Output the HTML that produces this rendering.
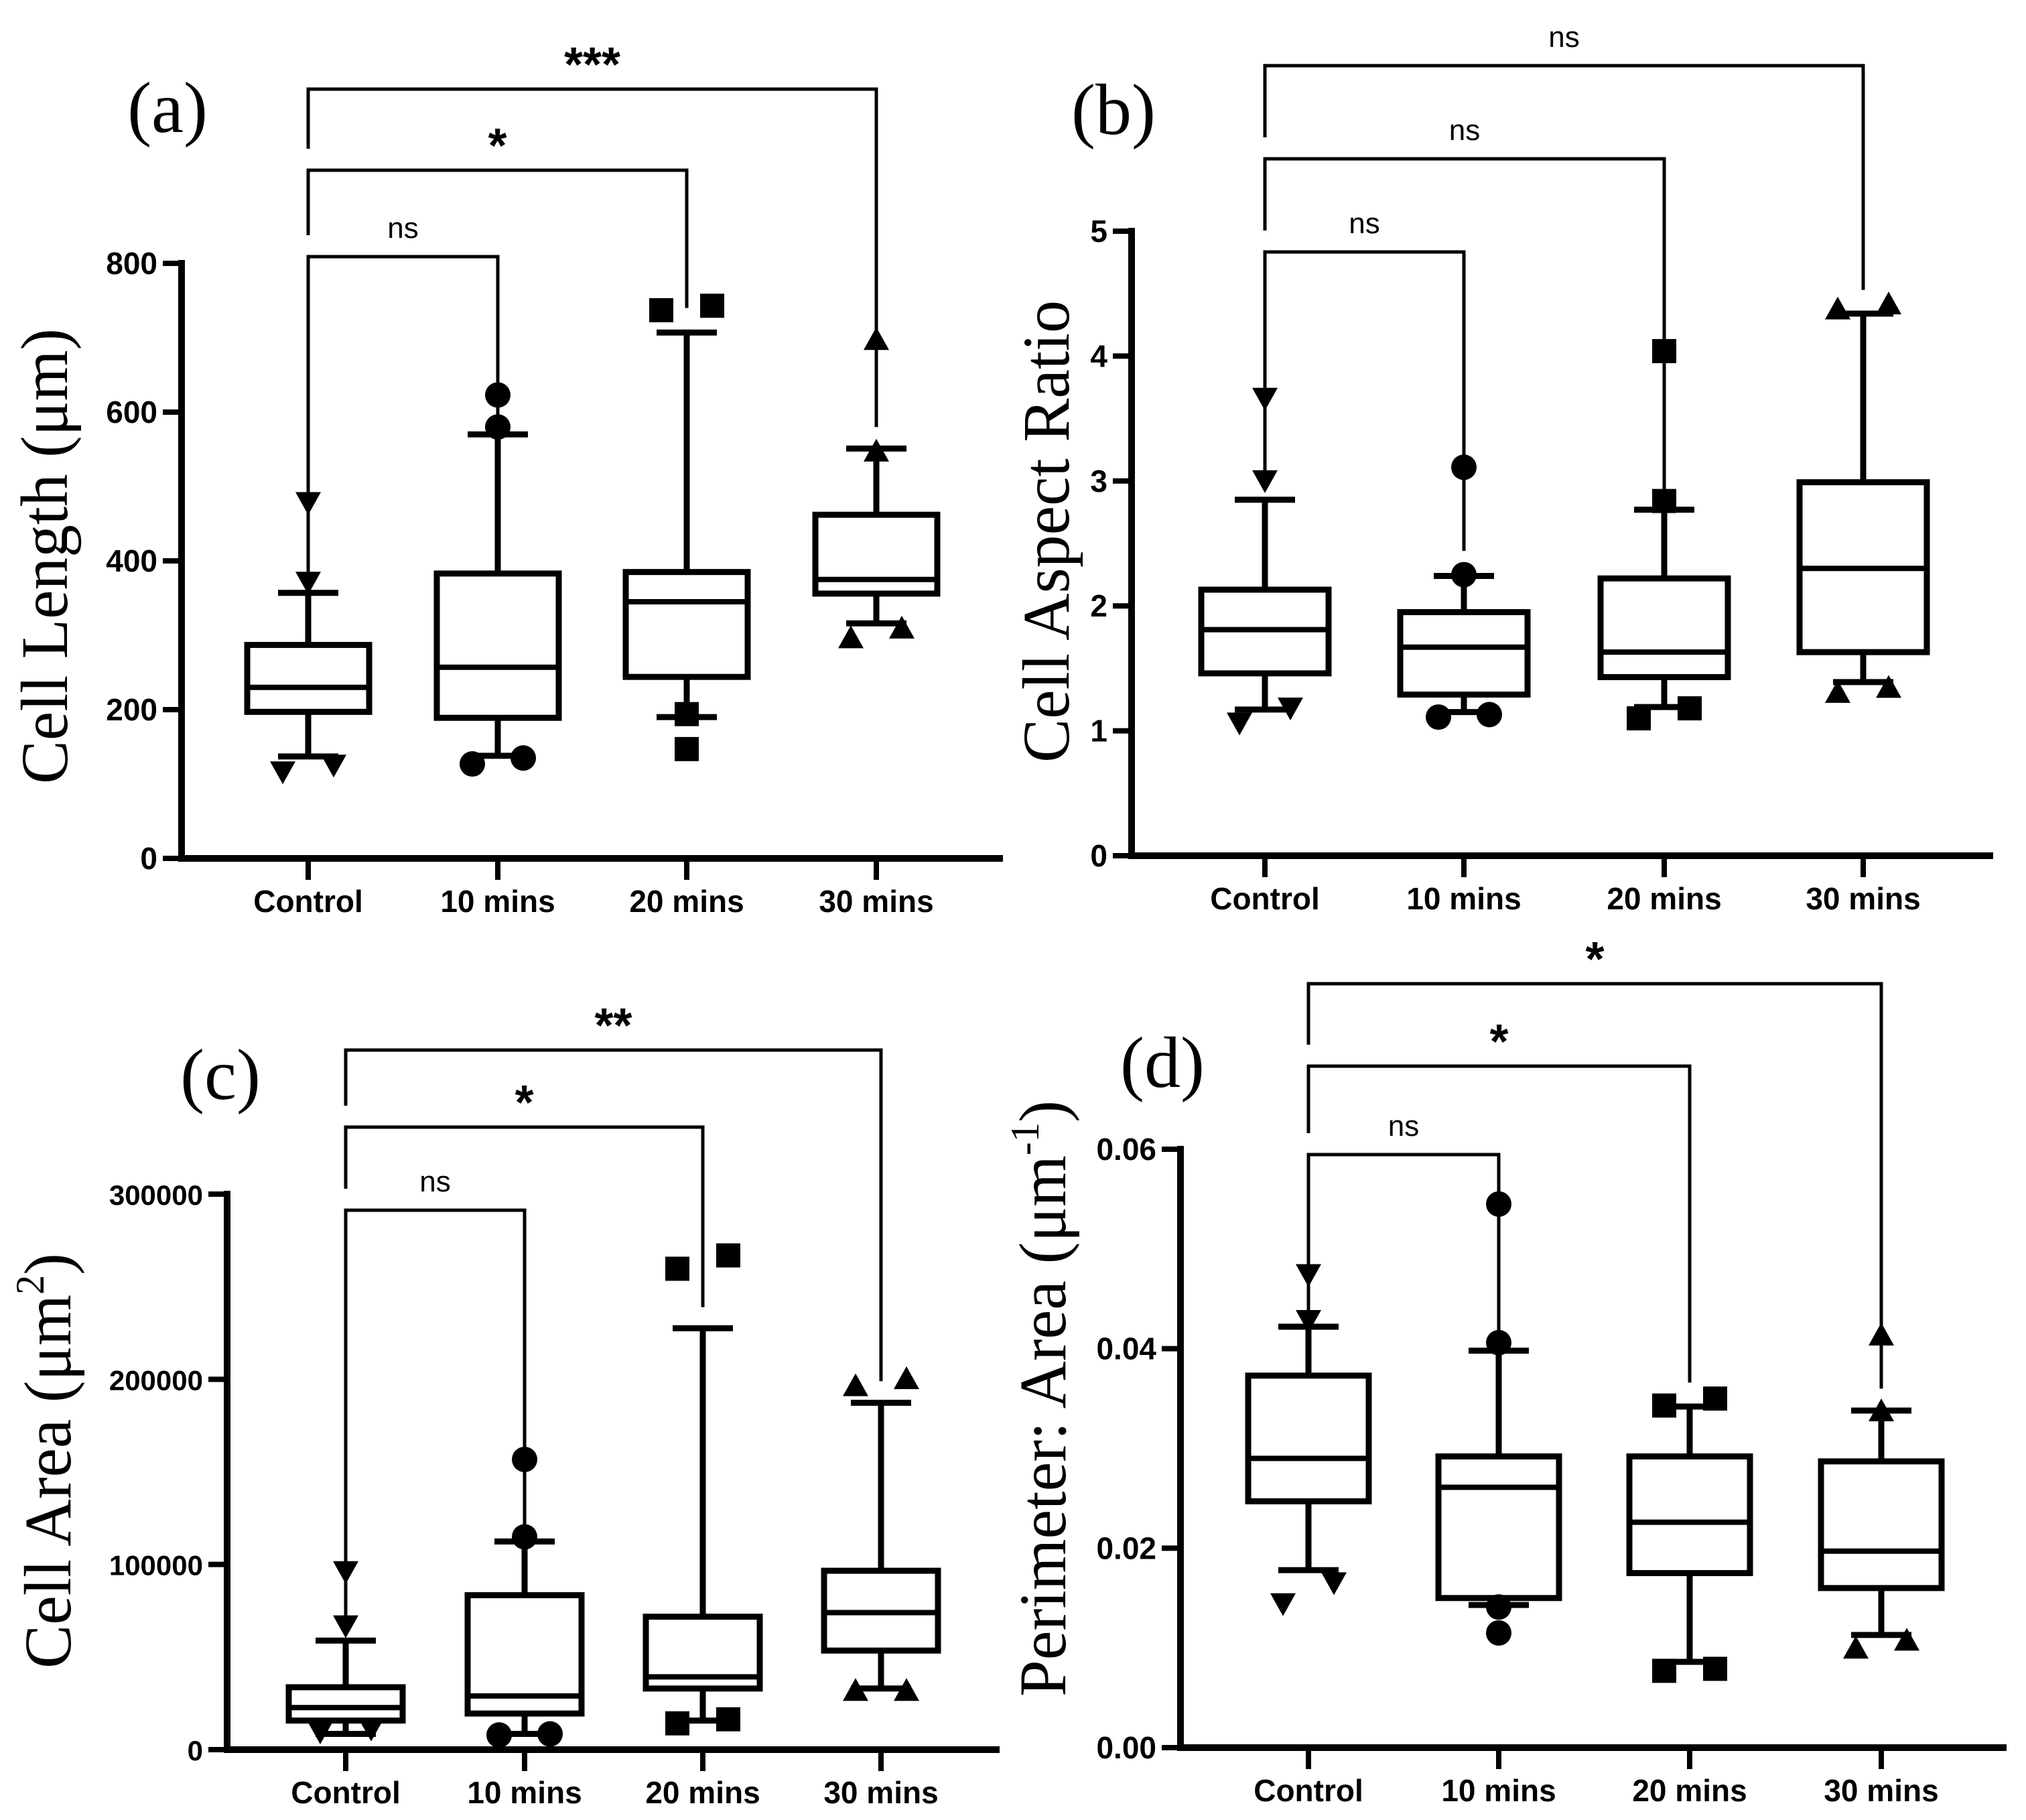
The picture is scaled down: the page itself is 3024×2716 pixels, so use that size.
<!DOCTYPE html>
<html><head><meta charset="utf-8"><style>
html,body{margin:0;padding:0;background:#fff;}
svg{display:block;}
</style></head><body>
<svg id="fig" xmlns="http://www.w3.org/2000/svg" width="3024" height="2716" viewBox="0 0 3024 2716"></svg>
<script>
const categories = ["Control","10 mins","20 mins","30 mins"];

// Panel a: Cell Length
const aQ1 = [197, 189, 244, 356];
const aMed = [230, 257, 345, 375];
const aQ3 = [287, 383, 385, 462];
const aWLo = [137, 138, 190, 316];
const aWHi = [357, 570, 707, 551];
const aOut = [[[478,0],[371,0],[116,-1],[125,1]],[[623,0],[580,0],[127,-1],[135,1]],[[737,-1],[743,1],[194,0],[147,0]],[[698,0],[548,0],[297,-1],[310,1]]];
const aTicks = [0,200,400,600,800];
const aSig = ["ns","*","***"];
const aLegEnd = [580, 740, 580];

// Panel b: Aspect ratio
const bQ1 = [1.46, 1.29, 1.43, 1.63];
const bMed = [1.81, 1.67, 1.63, 2.30];
const bQ3 = [2.13, 1.95, 2.22, 2.99];
const bWLo = [1.17, 1.15, 1.19, 1.39];
const bWHi = [2.85, 2.24, 2.77, 4.34];
const bOut = [[[3.66,0],[3.0,0],[1.06,-1],[1.18,1]],[[3.11,0],[2.25,0],[1.11,-1],[1.13,1]],[[4.04,0],[2.84,0],[1.10,-1],[1.18,1]],[[4.38,-1],[4.42,1],[1.31,-1],[1.35,1]]];
const bTicks = [0,1,2,3,4,5];
const bSig = ["ns","ns","ns"];
const bLegEnd = [2.44, 2.9, 4.53];

// Panel c: Cell area
const cQ1 = [15700, 19500, 33000, 53500];
const cMed = [22700, 29000, 39300, 74000];
const cQ3 = [33700, 83400, 71800, 96600];
const cWLo = [8500, 8500, 15700, 33000];
const cWHi = [58900, 112400, 227600, 187300];
const cOut = [[[96000,0],[66700,0],[9400,-1],[11000,1]],[[156700,0],[114900,0],[7900,-1],[8500,1]],[[259700,-1],[266900,1],[14200,-1],[16400,1]],[[196700,-1],[200500,1],[32100,-1],[32100,1]]];
const cTicks = [0,100000,200000,300000];
const cSig = ["ns","*","**"];
const cLegEnd = [115000, 239000, 199000];

// Panel d: Perimeter:Area
const dQ1 = [0.0247, 0.0150, 0.0175, 0.0160];
const dMed = [0.0290, 0.0261, 0.0226, 0.0197];
const dQ3 = [0.0373, 0.0292, 0.0292, 0.0287];
const dWLo = [0.0178, 0.0143, 0.0086, 0.0113];
const dWHi = [0.0422, 0.0398, 0.0342, 0.0338];
const dOut = [[[0.0474,0],[0.0428,0],[0.0144,-1],[0.0165,1]],[[0.0545,0],[0.0406,0],[0.0141,0],[0.0115,0]],[[0.0343,-1],[0.0350,1],[0.0077,-1],[0.0079,1]],[[0.0414,0],[0.0338,0],[0.0100,-1],[0.0108,1]]];
const dTicks = [0,0.02,0.04,0.06];
const dTickLabels = ["0.00","0.02","0.04","0.06"];
const dSig = ["ns","*","*"];
const dLegEnd = [0.041, 0.0366, 0.036];

const NS = "http://www.w3.org/2000/svg";
const svg = document.getElementById('fig');
function mk(tag, attrs, parent){
  const e = document.createElementNS(NS, tag);
  for (const k in attrs) e.setAttribute(k, attrs[k]);
  (parent||svg).appendChild(e);
  return e;
}

function panel(p){
  const g = mk('g', {});
  
  
  const yScale = v => p.y0 + (v - p.vmin)/(p.vmax - p.vmin)*(p.y1 - p.y0);
  const xs = p.cx;
  const ya = mk('line', {x1:p.ax, y1:p.y0+5, x2:p.ax, y2:p.y1-5, stroke:'#000','stroke-width':10}, g);
  
  
  const xa = mk('line', {x1:p.ax-5, y1:p.y0, x2:p.xend, y2:p.y0, stroke:'#000','stroke-width':10}, g);
  
  
  p.ticks.forEach((t,i)=>{
    const y = yScale(t);
    mk('line', {x1:p.ax-28, y1:y, x2:p.ax, y2:y, stroke:'#000','stroke-width':8}, g);
    const tx = mk('text', {x:p.ax-36, y:y+16, 'text-anchor':'end','font-family':'Liberation Sans, sans-serif','font-weight':'bold','font-size':p.tickFont||46}, g);
    tx.textContent = p.tickLabels ? p.tickLabels[i] : String(t);
    
    
  });
  categories.forEach((c,i)=>{
    mk('line', {x1:xs[i], y1:p.y0, x2:xs[i], y2:p.y0+32, stroke:'#000','stroke-width':8}, g);
    const tx = mk('text', {x:xs[i], y:p.y0+80, 'text-anchor':'middle','font-family':'Liberation Sans, sans-serif','font-weight':'bold','font-size':46}, g);
    tx.textContent = c;
    
    
  });
  const tt = mk('text', {x:0, y:0, transform:`translate(${p.tx},${p.ty}) rotate(-90)`, 'text-anchor':'middle','font-family':'Liberation Serif, serif','font-size':100, textLength:p.tlen, lengthAdjust:'spacingAndGlyphs'}, g);
  tt.innerHTML = p.title;
  
  
  const pl = mk('text', {x:p.lx, y:p.ly, 'text-anchor':'middle','font-family':'Liberation Serif, serif','font-size':108}, g);
  pl.textContent = p.label;
  
  
  p.sig.forEach((s,k)=>{
    const by = p.by[k];
    const xr = xs[k+1];
    const leftEnd = k===0 ? yScale(p.out[0][1][0]) : p.by[k-1]-32;
    const rightEnd = yScale(p.legEnd[k]);
    const br = mk('path', {d:`M${xs[0]},${leftEnd} L${xs[0]},${by} L${xr},${by} L${xr},${rightEnd}`, fill:'none', stroke:'#000','stroke-width':5}, g);
    
    
    const isStar = s.indexOf('*')>=0;
    const st = mk('text', {x:(xs[0]+xr)/2, y: isStar ? by-12 : by-28, 'text-anchor':'middle','font-family':'Liberation Sans, sans-serif','font-weight': isStar?'bold':'normal','font-size': isStar?72:44}, g);
    st.textContent = s;
    
    
  });
  for (let i=0;i<4;i++){
    const x = xs[i], hw = p.hw;
    const wl = mk('line', {x1:x, y1:yScale(p.wlo[i]), x2:x, y2:yScale(p.q1[i]), stroke:'#000','stroke-width':9}, g);
    
    
    const wh = mk('line', {x1:x, y1:yScale(p.whi[i]), x2:x, y2:yScale(p.q3[i]), stroke:'#000','stroke-width':9}, g);
    
    
    mk('line', {x1:x-45, y1:yScale(p.wlo[i]), x2:x+45, y2:yScale(p.wlo[i]), stroke:'#000','stroke-width':9}, g);
    mk('line', {x1:x-45, y1:yScale(p.whi[i]), x2:x+45, y2:yScale(p.whi[i]), stroke:'#000','stroke-width':9}, g);
    const yt = yScale(p.q3[i]), yb = yScale(p.q1[i]);
    const bx = mk('rect', {x:x-hw, y:yt, width:2*hw, height:yb-yt, fill:'#fff', stroke:'#000','stroke-width':9}, g);
    
    
    const md = mk('line', {x1:x-hw, y1:yScale(p.med[i]), x2:x+hw, y2:yScale(p.med[i]), stroke:'#000','stroke-width':8}, g);
    
    
    p.out[i].forEach(o=>{
      const ox = x + o[1]*38, oy = yScale(o[0]);
      let m;
      if (i===0) m = mk('path', {d:`M${ox-19},${oy-16} L${ox+19},${oy-16} L${ox},${oy+18} Z`, fill:'#000'}, g);
      else if (i===1) m = mk('circle', {cx:ox, cy:oy, r:19, fill:'#000'}, g);
      else if (i===2) m = mk('rect', {x:ox-18, y:oy-18, width:36, height:36, fill:'#000'}, g);
      else m = mk('path', {d:`M${ox-19},${oy+16} L${ox+19},${oy+16} L${ox},${oy-18} Z`, fill:'#000'}, g);
      
      
    });
  }
}

panel({name:'panel-a-cell-length', ax:271, xend:1497, y0:1281, y1:393, vmin:0, vmax:800, cx:[460,743,1025,1308], hw:91,
  ticks:aTicks, q1:aQ1, med:aMed, q3:aQ3, wlo:aWLo, whi:aWHi, out:aOut, sig:aSig, legEnd:aLegEnd, by:[383,254,133],
  title:'Cell Length (μm)', tx:100, ty:830, tlen:680, label:'(a)', lx:250, ly:197});
panel({name:'panel-b-aspect-ratio', ax:1689, xend:2975, y0:1277, y1:345, vmin:0, vmax:5, cx:[1888,2185,2484,2781], hw:95,
  ticks:bTicks, q1:bQ1, med:bMed, q3:bQ3, wlo:bWLo, whi:bWHi, out:bOut, sig:bSig, legEnd:bLegEnd, by:[376,237,98],
  title:'Cell Aspect Ratio', tx:1595, ty:793, tlen:690, label:'(b)', lx:1662, ly:200});
panel({name:'panel-c-cell-area', ax:339, xend:1492, y0:2611, y1:1782, vmin:0, vmax:300000, cx:[516,783,1049,1315], hw:85,
  ticks:cTicks, tickFont:42, q1:cQ1, med:cMed, q3:cQ3, wlo:cWLo, whi:cWHi, out:cOut, sig:cSig, legEnd:cLegEnd, by:[1806,1682,1567],
  title:'Cell Area (μm<tspan dy="-40" font-size="60">2</tspan><tspan dy="40">)</tspan>', tx:105, ty:2180, tlen:620, label:'(c)', lx:329, ly:1640});
panel({name:'panel-d-perimeter-area', ax:1762, xend:2995, y0:2608, y1:1715, vmin:0, vmax:0.06, cx:[1953,2237,2522,2808], hw:90,
  ticks:dTicks, tickLabels:dTickLabels, q1:dQ1, med:dMed, q3:dQ3, wlo:dWLo, whi:dWHi, out:dOut, sig:dSig, legEnd:dLegEnd, by:[1723,1591,1468],
  title:'Perimeter: Area (μm<tspan dy="-40" font-size="60">-1</tspan><tspan dy="40">)</tspan>', tx:1590, ty:2087, tlen:890, label:'(d)', lx:1735, ly:1622});
</script>
</body></html>
